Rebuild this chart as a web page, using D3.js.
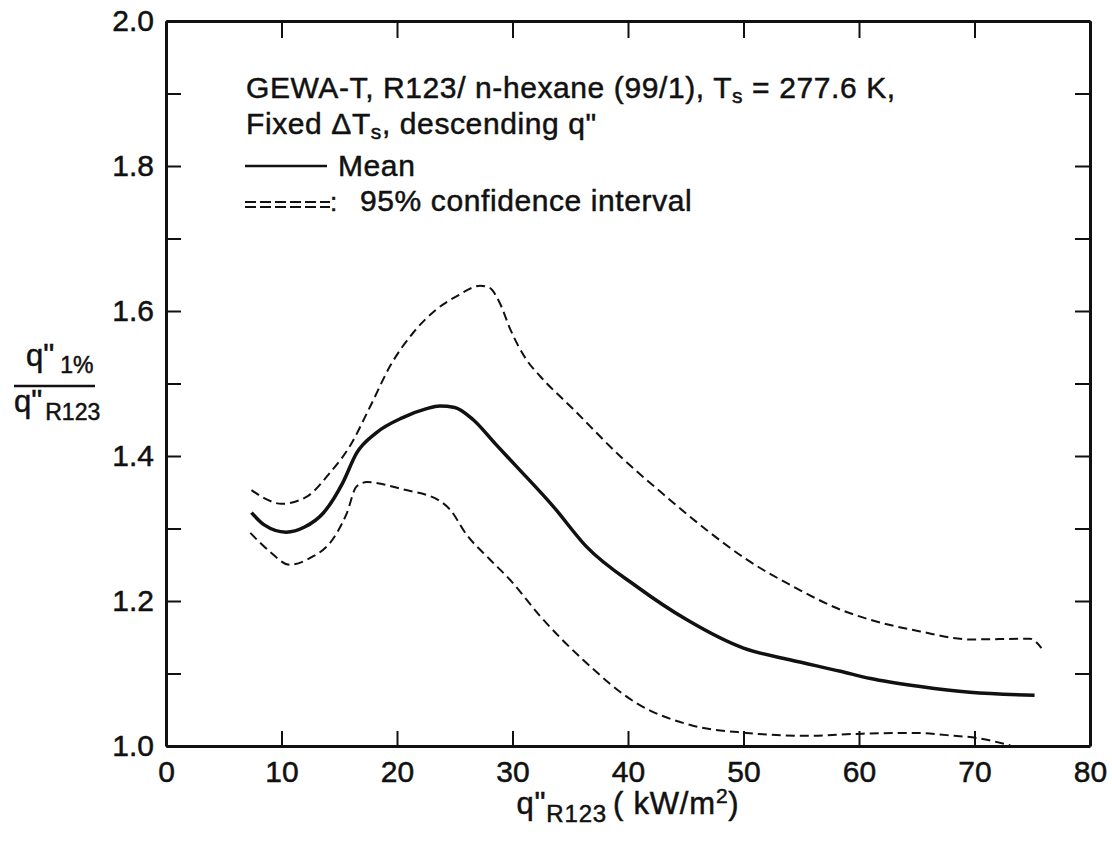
<!DOCTYPE html>
<html>
<head>
<meta charset="utf-8">
<script src="https://cdn.jsdelivr.net/npm/d3@7"></script>
<style>
  body { margin: 0; background: #fff; }
  text { font-family: "Liberation Sans", Arial, Helvetica, sans-serif; fill: #111; stroke: #111; stroke-width: 0.5px; }
</style>
</head>
<body>
<div id="chart"></div>
<script>
// Mean ratio curve
const meanX = [7.4, 8.5, 10.4, 12.0, 13.6, 15.3, 16.5, 18.2, 20.5, 22.5, 23.7, 25.0, 26.6, 28.5, 30.5, 33.5, 36.4, 40.75, 45.1, 50.0, 54.0, 58.4, 61.0, 65.3, 69.6, 75.2];
const meanY = [1.322, 1.305, 1.295, 1.302, 1.321, 1.363, 1.404, 1.432, 1.453, 1.465, 1.469, 1.467, 1.450, 1.417, 1.383, 1.331, 1.275, 1.220, 1.174, 1.135, 1.119, 1.103, 1.093, 1.082, 1.074, 1.070];

// Upper 95% confidence bound
const upperX = [7.4, 8.5, 10.0, 12.2, 14.2, 15.9, 17.7, 19.4, 21.4, 23.4, 25.45, 26.5, 27.2, 28.0, 28.9, 29.8, 31.2, 32.4, 35.3, 39.3, 43.3, 46.8, 50.3, 54.3, 58.4, 61.0, 65.3, 69.6, 74.8, 75.8];
const upperY = [1.353, 1.342, 1.334, 1.344, 1.377, 1.413, 1.469, 1.524, 1.570, 1.602, 1.623, 1.632, 1.635, 1.632, 1.611, 1.575, 1.533, 1.510, 1.464, 1.400, 1.344, 1.298, 1.257, 1.220, 1.188, 1.174, 1.158, 1.147, 1.148, 1.135];

// Lower 95% confidence bound
const lowerX = [7.3, 9.0, 10.7, 12.2, 14.8, 15.65, 16.5, 17.4, 20.5, 23.7, 24.6, 26.0, 28.0, 29.8, 32.4, 36.1, 40.75, 45.4, 50.3, 55.5, 60.3, 65.0, 67.6, 70.2, 73.1];
const lowerY = [1.294, 1.268, 1.250, 1.257, 1.294, 1.321, 1.358, 1.364, 1.354, 1.338, 1.326, 1.292, 1.258, 1.229, 1.179, 1.119, 1.059, 1.029, 1.018, 1.014, 1.017, 1.018, 1.015, 1.011, 1.001];

// Axis ticks
const xTicks = [0, 10, 20, 30, 40, 50, 60, 70, 80];
const yTicks = [1.0, 1.1, 1.2, 1.3, 1.4, 1.5, 1.6, 1.7, 1.8, 1.9, 2.0];
const yLabels = ["1.0", "", "1.2", "", "1.4", "", "1.6", "", "1.8", "", "2.0"];

// Dimensions and margins
const margin = { top: 21, right: 22, bottom: 107, left: 166 };
const width = 1112 - margin.left - margin.right;
const height = 853 - margin.top - margin.bottom;

const svgRoot = d3.select("#chart")
  .append("svg")
  .attr("width", 1112)
  .attr("height", 853);

const svg = svgRoot.append("g")
  .attr("transform", `translate(${margin.left},${margin.top})`);

const x = d3.scaleLinear().domain([0, 80]).range([0, width]);
const y = d3.scaleLinear().domain([1.0, 2.0]).range([height, 0]);

// Axes, ticks pointing inward on all four sides
function styleAxis(g) {
  g.select(".domain").attr("stroke", "#111").attr("stroke-width", 3);
  g.selectAll(".tick line").attr("stroke", "#111").attr("stroke-width", 2);
  g.selectAll(".tick text").style("font-size", "30px").attr("fill", "#111");
}

svg.append("g")
  .attr("transform", `translate(0,${height})`)
  .call(d3.axisBottom(x).tickValues(xTicks).tickSizeInner(-15).tickSizeOuter(0).tickPadding(15).tickFormat(d3.format("d")))
  .call(styleAxis);

svg.append("g")
  .call(d3.axisTop(x).tickValues(xTicks).tickSizeInner(-17).tickSizeOuter(0).tickFormat(""))
  .call(styleAxis);

svg.append("g")
  .call(d3.axisLeft(y).tickValues(yTicks).tickSizeInner(-15).tickSizeOuter(0).tickPadding(12).tickFormat((d, i) => yLabels[i]))
  .call(styleAxis);

svg.append("g")
  .attr("transform", `translate(${width},0)`)
  .call(d3.axisLeft(y).tickValues(yTicks).tickSizeInner(15).tickSizeOuter(0).tickFormat(""))
  .call(styleAxis);

// Curves
const toPoints = (xs, ys) => xs.map((v, i) => ({ x: v, y: ys[i] }));
const line = d3.line()
  .x(d => x(d.x))
  .y(d => y(d.y))
  .curve(d3.curveMonotoneX);

svg.append("path")
  .datum(toPoints(upperX, upperY))
  .attr("fill", "none")
  .attr("stroke", "#111")
  .attr("stroke-width", 2)
  .attr("stroke-dasharray", "9,5")
  .attr("d", line);

svg.append("path")
  .datum(toPoints(lowerX, lowerY))
  .attr("fill", "none")
  .attr("stroke", "#111")
  .attr("stroke-width", 2)
  .attr("stroke-dasharray", "9,5")
  .attr("d", line);

svg.append("path")
  .datum(toPoints(meanX, meanY))
  .attr("fill", "none")
  .attr("stroke", "#111")
  .attr("stroke-width", 3.5)
  .attr("d", line);

// Annotation and legend
const note = svgRoot.append("g").style("letter-spacing", "0.6px");

const l1 = note.append("text").attr("x", 246).attr("y", 98).style("font-size", "30px");
l1.append("tspan").text("GEWA-T, R123/ n-hexane (99/1), T");
l1.append("tspan").attr("baseline-shift", "-25%").style("font-size", "21px").text("s");
l1.append("tspan").text(" = 277.6 K,");

const l2 = note.append("text").attr("x", 246).attr("y", 134).style("font-size", "30px");
l2.append("tspan").text("Fixed \u0394T");
l2.append("tspan").attr("baseline-shift", "-25%").style("font-size", "21px").text("s");
l2.append("tspan").text(", descending q\"");

note.append("line")
  .attr("x1", 245).attr("x2", 327).attr("y1", 166).attr("y2", 166)
  .attr("stroke", "#111").attr("stroke-width", 2.5);
note.append("text").attr("x", 338).attr("y", 176).style("font-size", "30px").text("Mean");

[202, 207].forEach(yy => {
  note.append("line")
    .attr("x1", 245).attr("x2", 330).attr("y1", yy).attr("y2", yy)
    .attr("stroke", "#111").attr("stroke-width", 1.8)
    .attr("stroke-dasharray", "11,4");
});
note.append("text").attr("x", 330).attr("y", 211).style("font-size", "26px").text(":");
note.append("text").attr("x", 360).attr("y", 211).style("font-size", "30px").text("95% confidence interval");

// Y-axis caption as a fraction
const yCap = svgRoot.append("g");
const num = yCap.append("text").attr("x", 26).attr("y", 366).style("font-size", "31px");
num.append("tspan").text("q\"");
num.append("tspan").attr("dx", 6).attr("baseline-shift", "-30%").style("font-size", "23px").text("1%");
yCap.append("line")
  .attr("x1", 14).attr("x2", 95).attr("y1", 386).attr("y2", 386)
  .attr("stroke", "#111").attr("stroke-width", 2.5);
const den = yCap.append("text").attr("x", 14).attr("y", 412).style("font-size", "31px");
den.append("tspan").text("q\"");
den.append("tspan").attr("dx", 3).attr("baseline-shift", "-35%").style("font-size", "23px").text("R123");

// X-axis caption
const xCap = svgRoot.append("text")
  .attr("x", 628).attr("y", 814)
  .attr("text-anchor", "middle")
  .style("letter-spacing", "0.8px")
  .style("font-size", "31px");
xCap.append("tspan").text("q\"");
xCap.append("tspan").attr("baseline-shift", "-35%").style("font-size", "24px").text("R123");
xCap.append("tspan").attr("dx", 6).text("( kW/m");
xCap.append("tspan").attr("baseline-shift", "super").style("font-size", "21px").text("2");
xCap.append("tspan").text(")");
</script>
</body>
</html>
